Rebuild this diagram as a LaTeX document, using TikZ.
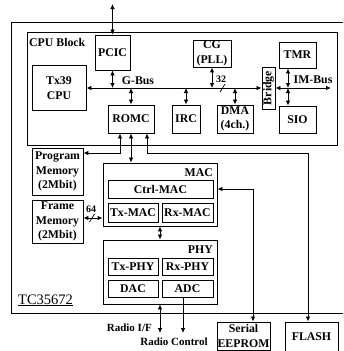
\documentclass[tikz,border=0pt]{standalone}
\usepackage{fontspec}
\setmainfont{Liberation Serif}
\usetikzlibrary{arrows.meta, positioning, calc}
\tikzset{
  blk/.style={rectangle, draw, line width=0.9pt, inner sep=0pt, align=center,
    font=\fontsize{11.8}{14.5}\selectfont\bfseries},
  grp/.style={rectangle, draw, line width=0.9pt, inner sep=0pt},
  lbl/.style={inner sep=0pt, font=\fontsize{11.8}{14.5}\selectfont\bfseries},
  arrow/.style={-{Latex[length=5pt,width=4.5pt]}, line width=0.8pt},
  darrow/.style={{Latex[length=5pt,width=4.5pt]}-{Latex[length=5pt,width=4.5pt]}, line width=0.8pt}
}

\begin{document}
\begin{tikzpicture}[x=1pt, y=-1pt]
    \useasboundingbox (0,0) rectangle (343,351);
    \clip (0,0) rectangle (343,351);

    % Chip and CPU block
    \node[grp, minimum width=349pt, minimum height=291pt] (chip) at (185.5,167.5) {};
    \node[lbl, anchor=base west, font=\fontsize{14.5}{16}\selectfont] (chipname) at (18,304) {\underline{TC35672}};
    \node[grp, minimum width=310pt, minimum height=113pt] (cpublk) at (182,88.5) {};
    \node[lbl, anchor=base west] (cpuname) at (29,46) {CPU Block};

    % CPU block contents
    \node[blk, minimum width=35pt, minimum height=35pt] (pcic) at (112.5,52.5) {PCIC};
    \node[blk, minimum width=54pt, minimum height=45pt] (tx39) at (59,88) {Tx39\\CPU};
    \node[blk, minimum width=38pt, minimum height=27pt] (cg) at (212,53.5) {CG\\(PLL)};
    \node[blk, minimum width=46pt, minimum height=28pt] (romc) at (131,119) {ROMC};
    \node[blk, minimum width=28pt, minimum height=28pt] (irc) at (186,119) {IRC};
    \node[blk, minimum width=36pt, minimum height=28pt] (dma) at (235,119) {DMA\\(4ch.)};
    \node[blk, rotate=90, minimum width=42pt, minimum height=13pt] (bridge) at (268.5,88) {Bridge};
    \node[blk, minimum width=37pt, minimum height=26pt] (tmr) at (297.5,55) {TMR};
    \node[blk, minimum width=37pt, minimum height=27pt] (sio) at (297.5,119.5) {SIO};

    % Memories
    \node[blk, minimum width=51pt, minimum height=47pt] (progmem) at (57.5,171.5) {Program\\Memory\\(2Mbit)};
    \node[blk, minimum width=51pt, minimum height=43pt] (framemem) at (57.5,221.5) {Frame\\Memory\\(2Mbit)};

    % MAC
    \node[grp, minimum width=114pt, minimum height=63pt] (mac) at (160,194.5) {};
    \node[lbl, anchor=base east] (macname) at (213,176) {MAC};
    \node[blk, minimum width=105pt, minimum height=18pt] (ctrlmac) at (160.5,189) {Ctrl-MAC};
    \node[blk, minimum width=50pt, minimum height=19pt] (txmac) at (133,212.5) {Tx-MAC};
    \node[blk, minimum width=51pt, minimum height=19pt] (rxmac) at (187.5,212.5) {Rx-MAC};

    % PHY
    \node[grp, minimum width=114pt, minimum height=64pt] (phy) at (160,272) {};
    \node[lbl, anchor=base east] (phyname) at (213,253) {PHY};
    \node[blk, minimum width=50pt, minimum height=17pt] (txphy) at (133,267) {Tx-PHY};
    \node[blk, minimum width=51pt, minimum height=17pt] (rxphy) at (187.5,267) {Rx-PHY};
    \node[blk, minimum width=50pt, minimum height=17pt] (dac) at (133,288.5) {DAC};
    \node[blk, minimum width=51pt, minimum height=17pt] (adc) at (187.5,288.5) {ADC};

    % External parts
    \node[blk, minimum width=53pt, minimum height=28pt] (eeprom) at (243.5,336) {Serial\\EEPROM};
    \node[blk, minimum width=53pt, minimum height=29pt] (flash) at (311.5,336.5) {FLASH};

    % G-Bus and IM-Bus
    \coordinate (gbus) at (0,88);
    \coordinate (ext) at (112.5,4);
    \coordinate (imend) at (331,88);
    \coordinate (imtap) at (288,88);
    \draw[darrow] (pcic) -- (ext);
    \draw[darrow] (tx39) -- (bridge);
    \draw[darrow] (bridge) -- (imend);
    \draw[darrow] (pcic) -- (pcic |- gbus);
    \draw[darrow] (romc.north) -- (romc.north |- gbus);
    \draw[darrow] (cg) -- (cg |- gbus);
    \draw[darrow] (irc.north) -- (irc.north |- gbus);
    \draw[darrow] (dma.north) -- (dma.north |- gbus);
    \draw[darrow] (tmr.south -| imtap) -- (imtap);
    \draw[darrow] (imtap) -- (sio.north -| imtap);
    \node[lbl, anchor=base] (gbusname) at (138,84) {G-Bus};
    \node[lbl, anchor=base] (imbusname) at (313,83) {IM-Bus};
    \node[lbl, anchor=base, font=\fontsize{10}{11}\selectfont\bfseries] (width32) at (221,82) {32};
    \draw[line width=0.7pt] (220,92) -- (225,84);

    % ROMC to memories
    \coordinate (mbus) at (0,153);
    \draw[darrow] ([xshift=-11pt]romc.south) |- (progmem.east |- mbus);
    \draw[darrow] ([xshift=16pt]romc.south) |- ([xshift=-3.5pt]flash.north |- mbus) -- ([xshift=-3.5pt]flash.north);
    \draw[darrow] (romc.south) -- (romc.south |- mac.north);

    % MAC links
    \draw[darrow] (framemem.east |- 0,218) -- (mac.west |- 0,218);
    \node[lbl, anchor=base, font=\fontsize{10}{11}\selectfont\bfseries] (width64) at (91,212) {64};
    \draw[line width=0.7pt] (89.5,222) -- (94.5,214);
    \draw[darrow] ([xshift=9.5pt]eeprom.north) |- (mac.east |- ctrlmac);
    \draw[darrow] (mac) -- (phy);

    % Radio
    \coordinate (rif) at (160,333);
    \coordinate (rctl) at (183,333);
    \draw[darrow] (phy.south) -- (rif);
    \draw[arrow] (adc.south -| rctl) -- (rctl);
    \node[lbl, anchor=base east, font=\fontsize{11}{13}\selectfont\bfseries] (rifname) at (152,331) {Radio I/F};
    \node[lbl, anchor=base, font=\fontsize{11}{13}\selectfont\bfseries] (rctlname) at (174,345) {Radio Control};
\end{tikzpicture}
\end{document}
